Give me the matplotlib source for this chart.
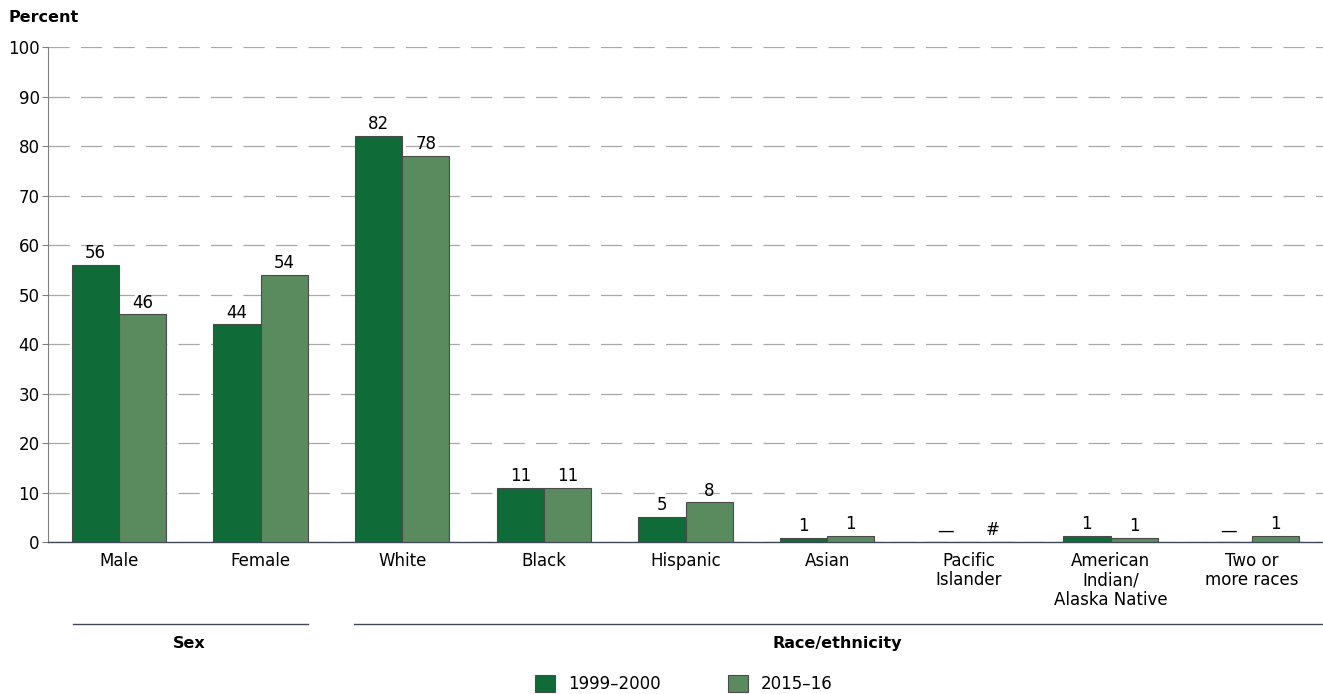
import matplotlib.pyplot as plt
import numpy as np

plt.rcParams['font.family'] = ['DejaVu Sans']

categories = ['Male', 'Female', 'White', 'Black', 'Hispanic', 'Asian',
              'Pacific\nIslander', 'American\nIndian/\nAlaska Native', 'Two or\nmore races']
# bar heights (approx. unrounded from the picture), labels as printed
v1999 = [56, 44, 82, 11, 5, 0.8, 0, 1.2, 0]
v2015 = [46, 54, 78, 11, 8, 1.2, 0, 0.9, 1.2]
lab1999 = ['56', '44', '82', '11', '5', '1', '—', '1', '—']
lab2015 = ['46', '54', '78', '11', '8', '1', '#', '1', '1']
series = ['1999–2000', '2015–16']

c1 = '#0f6b38'
c2 = '#5a8b5f'
edge = '#4a4a4a'
fs = 12

fig = plt.figure(figsize=(13.23, 6.94), dpi=100)
ax = fig.add_axes([0.0363, 0.219, 0.9637, 0.713])

x = np.arange(len(categories))
w = 0.333
b1 = ax.bar(x - w/2, v1999, w, color=c1, edgecolor=edge, linewidth=0.8, zorder=3, label=series[0])
b2 = ax.bar(x + w/2, v2015, w, color=c2, edgecolor=edge, linewidth=0.8, zorder=3, label=series[1])

for i in range(len(categories)):
    ax.annotate(lab1999[i], (x[i] - w/2, v1999[i]), xytext=(0, 2), textcoords='offset points',
                ha='center', va='bottom', fontsize=fs)
    ax.annotate(lab2015[i], (x[i] + w/2, v2015[i]), xytext=(0, 2), textcoords='offset points',
                ha='center', va='bottom', fontsize=fs)

ax.set_xlim(-0.5, len(categories) - 0.5)
ax.set_ylim(0, 100)
ax.set_yticks(range(0, 101, 10))
ax.yaxis.grid(True, color='#a8a8a8', linestyle=(0, (17, 9)), linewidth=0.9, zorder=0)
ax.set_xticks(x)
ax.set_xticklabels(categories, fontsize=fs, va='top', linespacing=1.1)
ax.tick_params(axis='x', length=0, pad=7)
ax.tick_params(axis='y', length=4, color='#808080', labelsize=fs, pad=2)
for s in ['top', 'right']:
    ax.spines[s].set_visible(False)
ax.spines['left'].set_color('#808080')
ax.spines['bottom'].set_color('#404855')
ax.spines['bottom'].set_linewidth(1.0)

fig.text(8 / 1323, 1 - 18 / 694, 'Percent', fontsize=11.5, fontweight='bold',
         ha='left', va='center')

# group brackets
ax.plot([-0.325, 1.335], [-16.6, -16.6], color='#404855', lw=1.0, clip_on=False)
ax.plot([1.66, 8.5], [-16.6, -16.6], color='#404855', lw=1.0, clip_on=False)
ax.text(0.5, -20.5, 'Sex', ha='center', va='center', fontsize=11.5, fontweight='bold')
ax.text(5.07, -20.5, 'Race/ethnicity', ha='center', va='center', fontsize=11.5, fontweight='bold')

leg = fig.legend(handles=[b1, b2], loc='center', bbox_to_anchor=(0.517, 1 - 684 / 694), ncol=2,
                 frameon=False, fontsize=fs, handlelength=1.2, handleheight=1.2,
                 columnspacing=4.0, handletextpad=0.8, borderpad=0, borderaxespad=0)

fig.savefig('out.png', dpi=100)
